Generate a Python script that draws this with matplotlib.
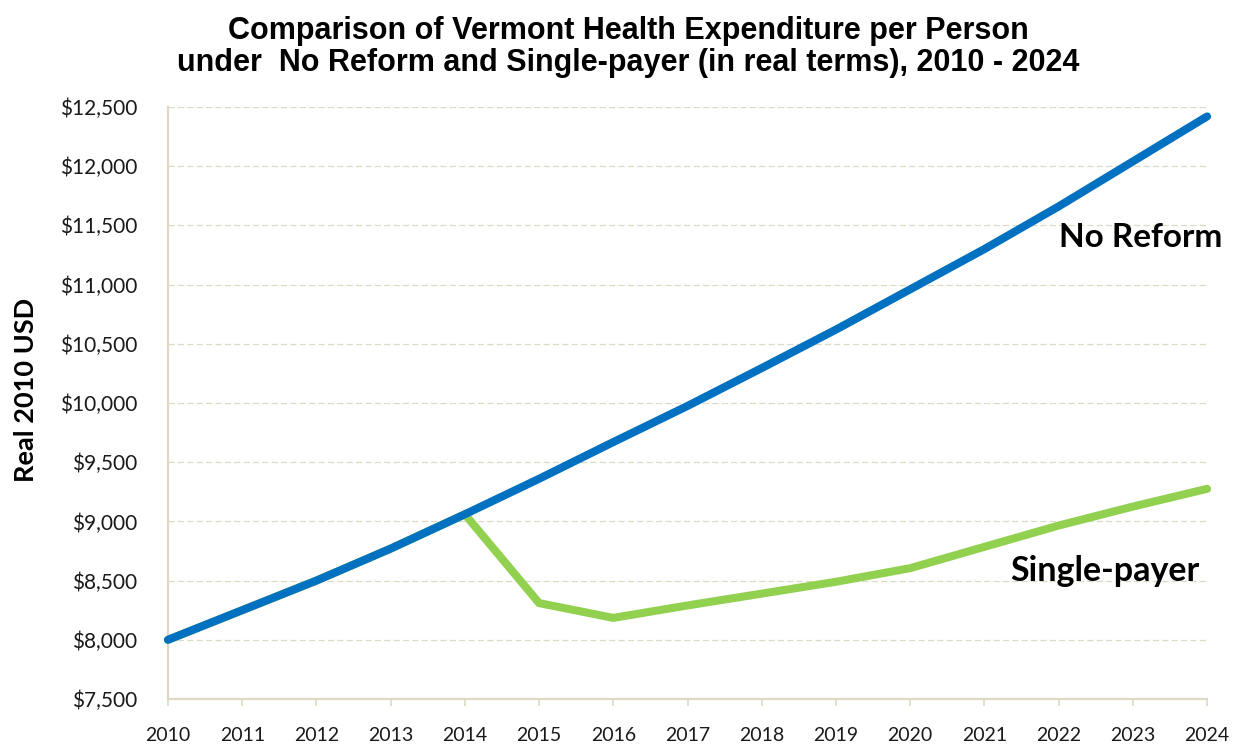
import numpy as np
import matplotlib.pyplot as plt
from matplotlib.ticker import FuncFormatter

years = np.arange(2010, 2025)
no_reform = [8000, 8250, 8500, 8770, 9060, 9360, 9670, 9975, 10295, 10620,
             10960, 11300, 11660, 12040, 12420]
single_payer = [8000, 8250, 8500, 8770, 9060, 8310, 8185, 8290, 8390, 8490,
                8605, 8785, 8965, 9125, 9275]

blue = "#0070C0"
green = "#92D050"
tan = "#DDD9C3"

fig = plt.figure(figsize=(12.37, 7.46), dpi=100)
ax = fig.add_axes([0.1358, 0.0630, 0.84, 0.7936])

ax.plot(years, single_payer, color=green, linewidth=5.8, solid_capstyle="round",
        solid_joinstyle="miter", clip_on=False, zorder=3)
ax.plot(years, no_reform, color=blue, linewidth=5.8, solid_capstyle="round",
        clip_on=False, zorder=4)

ax.set_xlim(2010, 2024)
ax.set_ylim(7500, 12500)
ax.set_xticks(years)
ax.set_yticks(np.arange(7500, 12501, 500))
ax.yaxis.set_major_formatter(FuncFormatter(lambda v, p: "${:,.0f}".format(v)))

# Define graph formalities
for s in ["top", "right"]:
    ax.spines[s].set_visible(False)
for s in ["left", "bottom"]:
    ax.spines[s].set_color(tan)
    ax.spines[s].set_linewidth(1.6)
ax.grid(axis="y", color=tan, linestyle=(0, (5, 2.5)), linewidth=0.9)
ax.set_axisbelow(True)
ax.tick_params(axis="x", length=5, width=1.2, color=tan, pad=15, labelsize=14)
ax.tick_params(axis="y", length=0, pad=22, labelsize=15)
for lab in ax.get_xticklabels() + ax.get_yticklabels():
    lab.set_family("Lato")
    lab.set_color("#1a1a1a")

ax.set_ylabel("Real 2010 USD", fontsize=19.5, fontweight="bold", family="Lato", labelpad=16)
ax.yaxis.label.set_y(0.522)

ax.text(2024.2, 11400, "No Reform", ha="right", va="center", fontsize=24,
        fontweight="bold", family="Lato")
ax.text(2023.9, 8580, "Single-payer", ha="right", va="center", fontsize=24.5,
        fontweight="bold", family="Lato")

fig.text(0.508, 0.937, "Comparison of Vermont Health Expenditure per Person\n"
         "under  No Reform and Single-payer (in real terms), 2010 - 2024",
         ha="center", va="center", fontsize=22, fontweight="bold",
         family="Liberation Sans", linespacing=1.12)

fig.savefig("out.png", dpi=100)
